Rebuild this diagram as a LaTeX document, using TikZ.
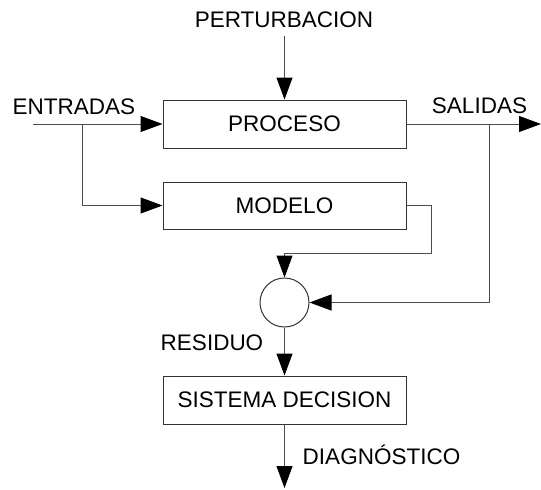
\documentclass[tikz,border=0pt]{standalone}
\usepackage{fontspec}
\setmainfont{Liberation Sans}
\usetikzlibrary{arrows.meta}
\begin{document}
\begin{tikzpicture}[x=1pt,y=-1pt,
  every node/.style={font=\fontsize{22.5}{26}\selectfont},
  blk/.style={draw=black!80,line width=1pt,minimum width=243pt,minimum height=48pt,inner sep=0pt,anchor=center},
  lbl/.style={inner sep=0pt,anchor=base},
  wire/.style={draw=black!70,line width=1pt},
  arr/.style={wire,-{Triangle[length=22pt,width=16pt,color=black]}}]
\useasboundingbox (0,0) rectangle (541,490);
\node[blk] (proc) at (284.5,124) {PROCESO};
\node[blk,minimum height=47pt] (mod) at (284.5,205.5) {MODELO};
\node[blk] (sd) at (284.5,400) {SISTEMA DECISION};
\node[draw=black!80,line width=1pt,circle,minimum size=49pt,inner sep=0pt] (sum) at (284.5,302.5) {};
\node[lbl] (tpert) at (284,27) {PERTURBACION};
\node[lbl] (tent) at (74,114) {ENTRADAS};
\node[lbl] (tsal) at (479.5,113) {SALIDAS};
\node[lbl] (tres) at (212,350) {RESIDUO};
\node[lbl] (tdiag) at (381.5,464) {DIAGNÓSTICO};
\coordinate (pin) at (284.5,36);
\coordinate (ein) at (33,124);
\coordinate (eb) at (82,124);
\coordinate (sout) at (541,124);
\coordinate (sb) at (489,124);
\coordinate (dout) at (284.5,488);
\draw[arr] (pin) -- (proc.north);
\draw[arr] (ein) -- (proc.west);
\draw[arr] (eb) |- (mod.west);
\draw[arr] (proc.east) -- (sout);
\draw[arr] (sb) |- (sum.east);
\draw[arr] (mod.east) -- (431,205.5) -- (431,253) -| (sum.north);
\draw[arr] (sum.south) -- (sd.north);
\draw[arr] (sd.south) -- (dout);
\end{tikzpicture}
\end{document}
